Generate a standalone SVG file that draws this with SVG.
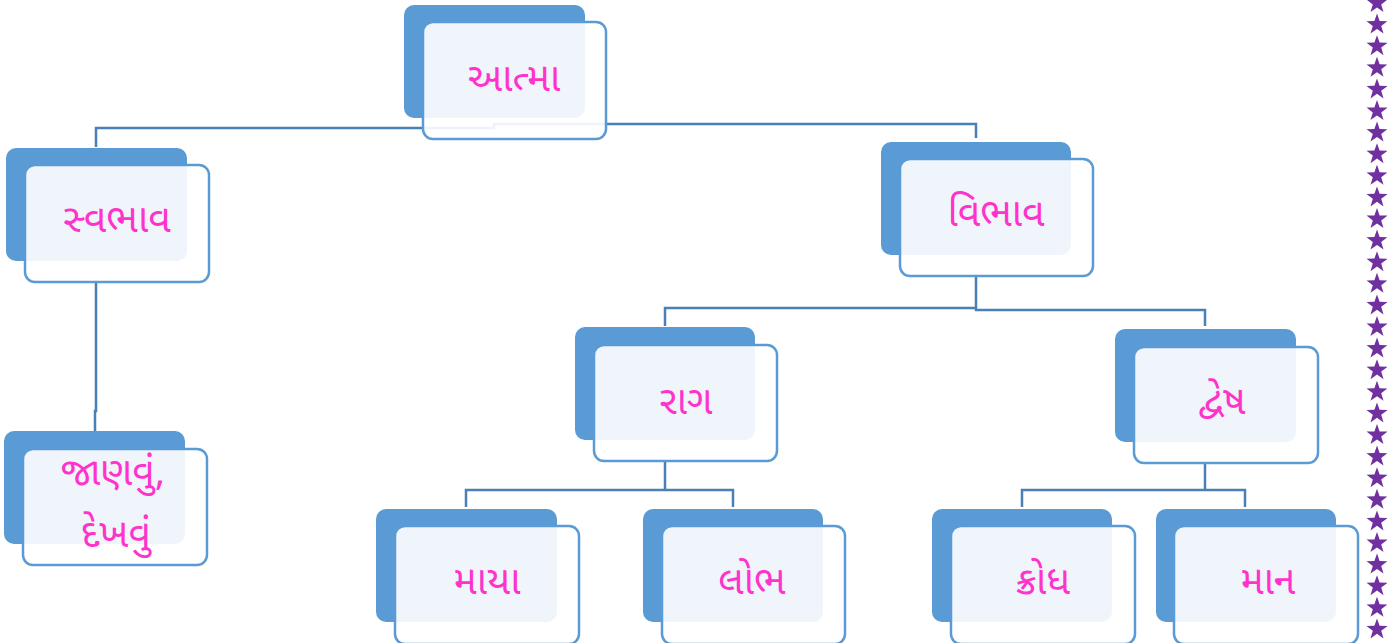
<svg xmlns="http://www.w3.org/2000/svg" xmlns:xlink="http://www.w3.org/1999/xlink" width="1387" height="643" viewBox="0 0 1387 643">
<defs>
<style>
.back{fill:#5b9bd5;}
.front{fill:#ffffff;fill-opacity:0.9;stroke:#5b9bd5;stroke-width:2.5;}
.lbl{font-family:"Noto Sans Gujarati","Noto Sans","Lato",sans-serif;font-size:39px;font-weight:400;fill:#ff33cc;text-anchor:middle;}
.con{fill:none;stroke:#4a80b8;stroke-width:2.5;}
.star{fill:#7030a0;}
</style>
<polygon id="st" points="0,-11 2.6,-3.6 10.5,-3.4 4.2,1.4 6.5,9 0,4.4 -6.5,9 -4.2,1.4 -10.5,-3.4 -2.6,-3.6"/>
</defs>
<rect width="1387" height="643" fill="#ffffff"/>
<g id="connectors">
<polyline class="con" points="96,147 96,128 494,128 494,124 976,124 976,138"/>
<polyline class="con" points="96,282 96,411 95,411 95,431"/>
<polyline class="con" points="976,276 976,310 1205,310 1205,326"/>
<polyline class="con" points="976,308 665,308 665,326"/>
<polyline class="con" points="665,461 665,490"/>
<polyline class="con" points="466,507 466,490 733,490 733,507"/>
<polyline class="con" points="1205,463 1205,490"/>
<polyline class="con" points="1022,507 1022,490 1245,490 1245,507"/>
</g>
<g id="atma"><rect class="back" x="404" y="5" width="181" height="113" rx="10"/><rect class="front" x="423" y="22" width="183" height="117" rx="10"/><text class="lbl" x="514" y="91">આત્મા</text></g>
<g id="svabhav"><rect class="back" x="6" y="148" width="181" height="113" rx="10"/><rect class="front" x="25" y="165" width="184" height="117" rx="10"/><text class="lbl" x="117" y="232">સ્વભાવ</text></g>
<g id="janavu"><rect class="back" x="4" y="431" width="181" height="113" rx="10"/><rect class="front" x="23" y="449" width="184" height="116" rx="10"/><text class="lbl" x="113" y="485">જાણવું,</text><text class="lbl" x="116" y="547">દેખવું</text></g>
<g id="vibhav"><rect class="back" x="881" y="142" width="190" height="113" rx="10"/><rect class="front" x="900" y="159" width="193" height="117" rx="10"/><text class="lbl" x="996" y="226">વિભાવ</text></g>
<g id="rag"><rect class="back" x="575" y="327" width="180" height="113" rx="10"/><rect class="front" x="594" y="345" width="183" height="116" rx="10"/><text class="lbl" x="686" y="414">રાગ</text></g>
<g id="dvesh"><rect class="back" x="1115" y="329" width="181" height="113" rx="10"/><rect class="front" x="1134" y="347" width="184" height="116" rx="10"/><text class="lbl" x="1222" y="414">દ્વેષ</text></g>
<g id="maya"><rect class="back" x="376" y="509" width="181" height="113" rx="10"/><rect class="front" x="395" y="526" width="184" height="118" rx="10"/><text class="lbl" x="487" y="594">માયા</text></g>
<g id="lobh"><rect class="back" x="643" y="509" width="180" height="113" rx="10"/><rect class="front" x="662" y="526" width="183" height="118" rx="10"/><text class="lbl" x="752" y="594">લોભ</text></g>
<g id="krodh"><rect class="back" x="932" y="509" width="180" height="113" rx="10"/><rect class="front" x="951" y="526" width="184" height="118" rx="10"/><text class="lbl" x="1043" y="594">ક્રોધ</text></g>
<g id="man"><rect class="back" x="1156" y="509" width="180" height="113" rx="10"/><rect class="front" x="1174" y="526" width="184" height="118" rx="10"/><text class="lbl" x="1268" y="594">માન</text></g>
<g id="stars" class="star">
<use xlink:href="#st" x="1377" y="3"/><use xlink:href="#st" x="1377" y="24.6"/><use xlink:href="#st" x="1377" y="46.2"/><use xlink:href="#st" x="1377" y="67.8"/><use xlink:href="#st" x="1377" y="89.4"/><use xlink:href="#st" x="1377" y="111"/><use xlink:href="#st" x="1377" y="132.6"/><use xlink:href="#st" x="1377" y="154.2"/><use xlink:href="#st" x="1377" y="175.8"/><use xlink:href="#st" x="1377" y="197.4"/><use xlink:href="#st" x="1377" y="219"/><use xlink:href="#st" x="1377" y="240.6"/><use xlink:href="#st" x="1377" y="262.2"/><use xlink:href="#st" x="1377" y="283.8"/><use xlink:href="#st" x="1377" y="305.4"/><use xlink:href="#st" x="1377" y="327"/><use xlink:href="#st" x="1377" y="348.6"/><use xlink:href="#st" x="1377" y="370.2"/><use xlink:href="#st" x="1377" y="391.8"/><use xlink:href="#st" x="1377" y="413.4"/><use xlink:href="#st" x="1377" y="435"/><use xlink:href="#st" x="1377" y="456.6"/><use xlink:href="#st" x="1377" y="478.2"/><use xlink:href="#st" x="1377" y="499.8"/><use xlink:href="#st" x="1377" y="521.4"/><use xlink:href="#st" x="1377" y="543"/><use xlink:href="#st" x="1377" y="564.6"/><use xlink:href="#st" x="1377" y="586.2"/><use xlink:href="#st" x="1377" y="607.8"/><use xlink:href="#st" x="1377" y="629.4"/>
</g>
</svg>
